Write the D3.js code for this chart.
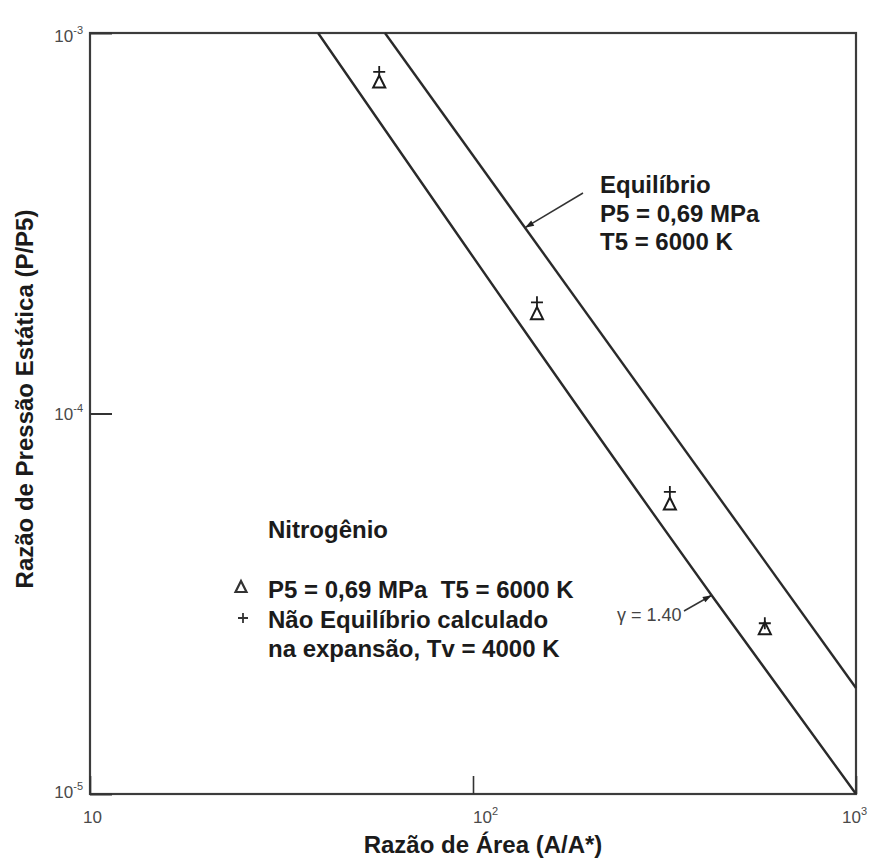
<!DOCTYPE html>
<html>
<head>
<meta charset="utf-8">
<script src="https://cdn.jsdelivr.net/npm/d3@7"></script>
<style>
  html, body { margin: 0; padding: 0; background: #fff; }
  svg { display: block; }
</style>
</head>
<body>
<svg id="chart" width="871" height="859"></svg>
<script>
// Static pressure ratio vs. area ratio, nitrogen nozzle expansion

// Axis decades
const xTickValues = [10, 100, 1000];
const xTickExp = ["", "2", "3"];
const yTickValues = [1e-3, 1e-4, 1e-5];
const yTickExp = ["-3", "-4", "-5"];

// Measured points (area ratio A/A*)
const areaRatio = [56.9, 146.9, 326.6, 578];
// triangles: P5 = 0,69 MPa, T5 = 6000 K
const triangleP = [7.43e-4, 1.83e-4, 5.78e-5, 2.72e-5];
// crosses: non-equilibrium expansion, Tv = 4000 K
const plusP = [7.9e-4, 1.96e-4, 6.22e-5, 2.81e-5];

// Equilibrium curve
const equilA = [58.9, 1000];
const equilP = [1e-3, 1.90e-5];
// Frozen curve, gamma = 1.40
const gammaA = [39.4, 428, 1000];
const gammaP = [1e-3, 3.24e-5, 1e-5];

const margin = { left: 90, right: 15, top: 33, bottom: 65 };
const W = 871, H = 859;
const svg = d3.select("#chart");

const x = d3.scaleLog().domain([10, 1000]).range([margin.left, W - margin.right]);
const y = d3.scaleLog().domain([1e-5, 1e-3]).range([H - margin.bottom, margin.top]);

const ink = "#1b1b1b";
const lineInk = "#2a2a2a";
const tickInk = "#4a4a4a";

// Frame
svg.append("rect")
  .attr("x", x(10)).attr("y", y(1e-3))
  .attr("width", x(1000) - x(10)).attr("height", y(1e-5) - y(1e-3))
  .attr("fill", "none").attr("stroke", "#3c3c3c").attr("stroke-width", 2.2);

// Inward ticks
const yAxis = d3.axisLeft(y).tickValues(yTickValues).tickSize(-22).tickFormat("");
const gy = svg.append("g").attr("transform", `translate(${x(10)},0)`).call(yAxis);
gy.select(".domain").remove();
gy.selectAll(".tick line").attr("stroke", "#333").attr("stroke-width", 2);

const xAxis = d3.axisBottom(x).tickValues(xTickValues).tickSize(-18).tickFormat("");
const gx = svg.append("g").attr("transform", `translate(0,${y(1e-5)})`).call(xAxis);
gx.select(".domain").remove();
gx.selectAll(".tick line").attr("stroke", "#333").attr("stroke-width", 1.6);

// Tick labels with superscript exponents
const tickFont = "'Liberation Sans', Arial, sans-serif";
const yLabelDy = [9, 6, 4];
yTickValues.forEach((v, i) => {
  const t = svg.append("text")
    .attr("x", x(10) - 7).attr("y", y(v) + yLabelDy[i])
    .attr("text-anchor", "end")
    .attr("font-family", tickFont).attr("fill", tickInk)
    .style("font-size", "17px");
  t.append("tspan").style("font-size", "17px").text("10");
  t.append("tspan").attr("dy", -8).style("font-size", "11px").text(yTickExp[i]);
});
const xLabelDx = [-7, 0, -14];
xTickValues.forEach((v, i) => {
  const t = svg.append("text")
    .attr("x", x(v) + xLabelDx[i]).attr("y", y(1e-5) + 29)
    .attr("text-anchor", "start")
    .attr("font-family", tickFont).attr("fill", tickInk)
    .style("font-size", "17px");
  t.append("tspan").style("font-size", "17px").text("10");
  if (xTickExp[i]) t.append("tspan").attr("dy", -8).style("font-size", "11px").text(xTickExp[i]);
});

// Axis titles
const boldFont = "'Liberation Sans', Arial, Helvetica, sans-serif";
const bigSize = 24;
svg.append("text")
  .attr("x", 483).attr("y", 853)
  .attr("text-anchor", "middle")
  .attr("font-family", boldFont).attr("font-weight", "bold").attr("font-size", bigSize)
  .attr("fill", ink)
  .text("Razão de Área (A/A*)");

svg.append("text")
  .attr("transform", `translate(33,${399}) rotate(-90)`)
  .attr("text-anchor", "middle")
  .attr("font-family", boldFont).attr("font-weight", "bold").attr("font-size", bigSize)
  .attr("fill", ink)
  .text("Razão de Pressão Estática (P/P5)");

// Curves
const curve = d3.line().x(d => x(d[0])).y(d => y(d[1]));
const equilPts = equilA.map((a, i) => [a, equilP[i]]);
const gammaPts = gammaA.map((a, i) => [a, gammaP[i]]);
svg.append("path").datum(equilPts).attr("d", curve)
  .attr("fill", "none").attr("stroke", lineInk).attr("stroke-width", 2.4);
svg.append("path").datum(gammaPts).attr("d", curve.curve(d3.curveMonotoneX))
  .attr("fill", "none").attr("stroke", lineInk).attr("stroke-width", 2.4);

// Point on a log-log polyline at a given area ratio
function onCurve(pts, a) {
  const la = Math.log10(a);
  for (let i = 0; i < pts.length - 1; i++) {
    const a0 = Math.log10(pts[i][0]), a1 = Math.log10(pts[i + 1][0]);
    if (la >= a0 && la <= a1) {
      const t = (la - a0) / (a1 - a0);
      const p = Math.log10(pts[i][1]) + t * (Math.log10(pts[i + 1][1]) - Math.log10(pts[i][1]));
      return [x(a), y(Math.pow(10, p))];
    }
  }
  return [x(a), y(pts[pts.length - 1][1])];
}

// Markers
const triPath = (cx, cy, s) => `M${cx},${cy - s * 0.6}L${cx + s * 0.55},${cy + s * 0.5}L${cx - s * 0.55},${cy + s * 0.5}Z`;
const plusPath = (cx, cy, s) => `M${cx - s / 2},${cy}H${cx + s / 2}M${cx},${cy - s / 2}V${cy + s / 2}`;

svg.append("g").selectAll("path").data(areaRatio).join("path")
  .attr("d", (a, i) => triPath(x(a), y(triangleP[i]), 11))
  .attr("fill", "none").attr("stroke", ink).attr("stroke-width", 2);
svg.append("g").selectAll("path").data(areaRatio).join("path")
  .attr("d", (a, i) => plusPath(x(a), y(plusP[i]), 12))
  .attr("fill", "none").attr("stroke", ink).attr("stroke-width", 1.8);

// Annotation leaders with small arrowheads
function leader(from, to) {
  svg.append("line")
    .attr("x1", from[0]).attr("y1", from[1]).attr("x2", to[0]).attr("y2", to[1])
    .attr("stroke", "#333").attr("stroke-width", 1.5);
  const ang = Math.atan2(to[1] - from[1], to[0] - from[0]);
  const len = 9, wid = 3;
  const bx = to[0] - len * Math.cos(ang), by = to[1] - len * Math.sin(ang);
  const px = -Math.sin(ang) * wid, py = Math.cos(ang) * wid;
  svg.append("path")
    .attr("d", `M${to[0]},${to[1]}L${bx + px},${by + py}L${bx - px},${by - py}Z`)
    .attr("fill", "#222");
}

const eqTip = onCurve(equilPts, 136.7);
leader([583, 193], eqTip);
const gTip = onCurve(gammaPts, 420);
leader([684, 611], gTip);

// Equilibrium label
const eqLines = ["Equilíbrio", "P5 = 0,69 MPa", "T5 = 6000 K"];
svg.append("g").selectAll("text").data(eqLines).join("text")
  .attr("x", 600).attr("y", (d, i) => 193 + i * 28.5)
  .attr("font-family", boldFont).attr("font-weight", "bold").attr("font-size", bigSize)
  .attr("fill", ink)
  .text(d => d);

// gamma label
svg.append("text")
  .attr("x", 617).attr("y", 621)
  .attr("font-family", tickFont).attr("fill", "#444")
  .style("font-size", "18px")
  .text("γ = 1.40");

// Legend
svg.append("text")
  .attr("x", 268).attr("y", 538)
  .attr("font-family", boldFont).attr("font-weight", "bold").attr("font-size", bigSize)
  .attr("fill", ink).text("Nitrogênio");

const legendLines = ["P5 = 0,69 MPa  T5 = 6000 K", "Não Equilíbrio calculado", "na expansão, Tv = 4000 K"];
svg.append("g").selectAll("text").data(legendLines).join("text")
  .attr("x", 268).attr("y", (d, i) => 598 + i * 29.5)
  .attr("font-family", boldFont).attr("font-weight", "bold").attr("font-size", bigSize)
  .attr("fill", ink)
  .style("white-space", "pre")
  .text(d => d);

svg.append("path").attr("d", triPath(241, 587, 10))
  .attr("fill", "none").attr("stroke", "#333").attr("stroke-width", 2.2);
svg.append("path").attr("d", plusPath(243, 618, 10))
  .attr("fill", "none").attr("stroke", "#333").attr("stroke-width", 1.8);
</script>
</body>
</html>
